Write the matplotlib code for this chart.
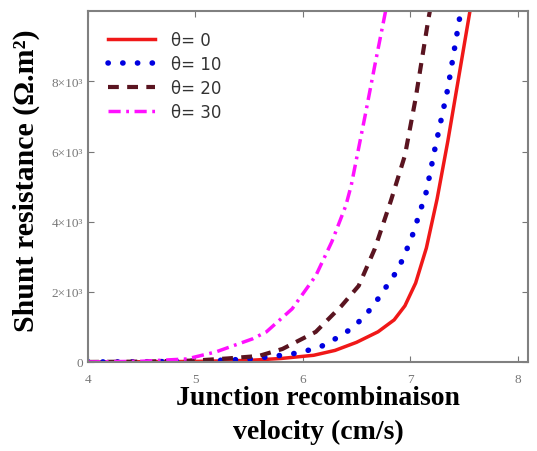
import numpy as np
import matplotlib.pyplot as plt

# valeurs
v0 = [4.0, 4.5, 5.0, 5.5, 5.8, 6.1, 6.3, 6.5, 6.7, 6.85, 6.95, 7.05, 7.15, 7.25, 7.35, 7.45, 7.6]
r0 = [0, 5, 15, 45, 100, 190, 330, 560, 860, 1200, 1600, 2250, 3250, 4650, 6300, 8100, 10800]

v10 = [4.0, 4.5, 5.0, 5.5, 5.75, 5.9, 6.03, 6.18, 6.3, 6.45, 6.58, 6.7, 6.89, 7.01, 7.1,
       7.15, 7.23, 7.35, 7.47, 7.52]
r10 = [0, 5, 20, 80, 171, 229, 314, 457, 657, 943, 1314, 1800, 2657, 3514, 4371,
       4857, 6086, 7800, 10000, 10900]

v20 = [4.0, 4.5, 5.0, 5.3, 5.59, 5.81, 6.12, 6.36, 6.52, 6.67, 6.82, 6.95, 7.05, 7.17, 7.22]
r20 = [0, 10, 40, 100, 171, 371, 857, 1600, 2171, 3229, 4600, 5886, 7514, 9800, 10600]

v30 = [4.0, 4.5, 4.92, 5.19, 5.53, 5.66, 5.9, 6.12, 6.27, 6.40, 6.45, 6.58, 6.67, 6.77, 6.82]
r30 = [0, 20, 86, 286, 657, 857, 1514, 2457, 3429, 4457, 5029, 7029, 8457, 10000, 10800]

xticks = [4, 5, 6, 7, 8]
yticks = [0, 2000, 4000, 6000, 8000]
ylabels = ['0', '2×10³', '4×10³', '6×10³', '8×10³']

fig = plt.figure(figsize=(5.37, 4.52), dpi=100)
ax = fig.add_axes([0.164, 0.197, 0.82, 0.776])

ax.plot(v0, r0, color='#f01818', lw=2.5, label='θ= 0')
ax.plot(v10, r10, color='#0000e0', lw=4, linestyle=(0, (0.05, 2.6)),
        dash_capstyle='round', label='θ= 10')
ax.plot(v20, r20, color='#5a1420', lw=3, linestyle=(0, (2.6, 2.0)), label='θ= 20')
ax.plot(v30, r30, color='#ff10ff', lw=2.5, linestyle=(0, (3.5, 1.6, 0.8, 1.6)), label='θ= 30')

ax.set_xlim(4, 8.1)
ax.set_ylim(0, 10000)
ax.set_xticks(xticks)
ax.set_yticks(yticks)
ax.set_yticklabels(ylabels)
ax.tick_params(direction='in', top=True, right=True, length=4, colors='#777777',
               labelsize=9.5, labelcolor='#777777')
ax.tick_params(axis='x', labelsize=9.5, pad=8)
for lab in ax.get_xticklabels() + ax.get_yticklabels():
    lab.set_family('Liberation Serif')
for s in ax.spines.values():
    s.set_color('#808080')
    s.set_linewidth(1.5)

ax.set_xlabel('Junction recombinaison\nvelocity (cm/s)', family='Liberation Serif',
              fontweight='bold', fontsize=20, linespacing=1.45)
ax.xaxis.set_label_coords(0.523, -0.065)
ax.xaxis.label.set_va('top')
ax.set_ylabel('Shunt resistance (Ω.m²)', family='Liberation Serif',
              fontweight='bold', fontsize=21.5)
ax.yaxis.set_label_coords(-0.11, 0.52)

leg = ax.legend(loc='upper left', frameon=False, fontsize=12, handlelength=2.8,
                borderaxespad=0.8, labelspacing=0.35, handletextpad=1.0)
for t in leg.get_texts():
    t.set_color('#333333')

fig.savefig('out.png', dpi=100)
